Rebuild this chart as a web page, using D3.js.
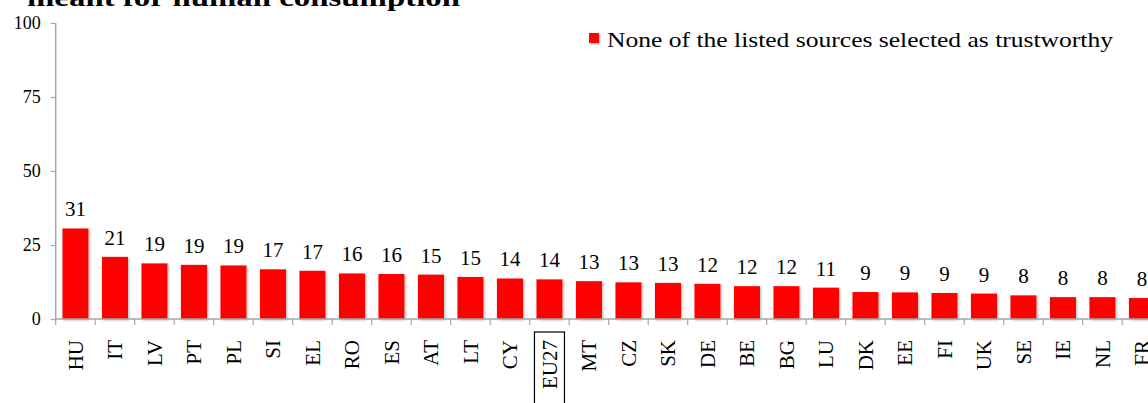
<!DOCTYPE html>
<html>
<head>
<meta charset="utf-8">
<script src="https://cdn.jsdelivr.net/npm/d3@7"></script>
<style>
  html, body { margin: 0; padding: 0; background: #fff; overflow: hidden; }
  svg { display: block; font-family: "Liberation Serif", "DejaVu Serif", serif; }
</style>
</head>
<body>
<svg id="chart" width="1148" height="403"></svg>
<script>
const categories = ["HU","IT","LV","PT","PL","SI","EL","RO","ES","AT","LT","CY","EU27","MT","CZ","SK","DE","BE","BG","LU","DK","EE","FI","UK","SE","IE","NL","FR"];
const values = [30.6,21.0,18.8,18.3,18.1,16.8,16.3,15.4,15.2,15.0,14.2,13.7,13.4,12.8,12.4,12.2,11.9,11.1,11.1,10.6,9.1,9.0,8.8,8.6,8.0,7.4,7.4,7.1];
const valueLabels = [31,21,19,19,19,17,17,16,16,15,15,14,14,13,13,13,12,12,12,11,9,9,9,9,8,8,8,8];
const yTicks = [0,25,50,75,100];
const seriesName = "None of the listed sources selected as trustworthy";
const titleText = "meant for human consumption";
const highlighted = "EU27";

const svg = d3.select("#chart");
const x0 = 55.7, step = 39.5;
const x = d3.scaleBand().domain(categories)
  .range([x0, x0 + step * categories.length])
  .paddingInner(0.34).paddingOuter(0.17);
const y = d3.scaleLinear().domain([0, 100]).range([319, 23]);

const defs = svg.append("defs");
const f = defs.append("filter").attr("id", "shadow").attr("x", "-20%").attr("y", "-20%").attr("width", "140%").attr("height", "140%");
f.append("feDropShadow").attr("dx", 1.2).attr("dy", 1.2).attr("stdDeviation", 1.2)
  .attr("flood-color", "#777").attr("flood-opacity", 0.55);

// title (cut off at top, as in the reference)
svg.append("text").attr("x", 27).attr("y", 6)
  .attr("font-size", 26).attr("font-weight", "bold").attr("fill", "#000")
  .attr("textLength", 433).attr("lengthAdjust", "spacingAndGlyphs")
  .text(titleText);

// bars
svg.append("g").selectAll("rect").data(categories).join("rect")
  .attr("x", d => x(d))
  .attr("width", x.bandwidth())
  .attr("y", (d, i) => y(values[i]))
  .attr("height", (d, i) => y(0) - y(values[i]))
  .attr("fill", "#ff0000")
  .attr("filter", "url(#shadow)");

// value labels
svg.append("g").selectAll("text").data(categories).join("text")
  .attr("x", d => x(d) + x.bandwidth() / 2)
  .attr("y", (d, i) => y(values[i]) - 12)
  .attr("text-anchor", "middle")
  .attr("font-size", 21).attr("fill", "#000")
  .text((d, i) => valueLabels[i]);

// y axis
const yAxis = d3.axisLeft(y).tickValues(yTicks).tickSize(5).tickPadding(10);
const gy = svg.append("g").attr("transform", `translate(${x0},0)`).call(yAxis);
gy.select(".domain").attr("stroke", "#a6a6a6").attr("stroke-width", 1.5).attr("d", `M0,${y(100)}V${y(0)}`);
gy.selectAll(".tick line").attr("stroke", "#a6a6a6").attr("stroke-width", 1.2);
gy.selectAll(".tick text").attr("font-size", 18).attr("font-family", "Liberation Serif, serif").attr("fill", "#000");

// x axis line and boundary ticks
const gx = svg.append("g");
gx.append("line").attr("x1", x0).attr("x2", 1148).attr("y1", y(0)).attr("y2", y(0))
  .attr("stroke", "#a6a6a6").attr("stroke-width", 1.5);
gx.selectAll("line.tk").data(d3.range(categories.length + 1)).join("line").attr("class", "tk")
  .attr("x1", i => x0 + i * step).attr("x2", i => x0 + i * step)
  .attr("y1", y(0)).attr("y2", y(0) + 6)
  .attr("stroke", "#a6a6a6").attr("stroke-width", 1.2);

// category labels
const labY = 340;
gx.selectAll("text.cat").data(categories).join("text").attr("class", "cat")
  .attr("transform", d => `translate(${x(d) + x.bandwidth() / 2 + 7.5},${labY}) rotate(-90)`)
  .attr("text-anchor", "end")
  .attr("font-size", 21).attr("fill", "#000")
  .text(d => d);

// highlight box around EU27
const hx = x(highlighted) + x.bandwidth() / 2;
svg.append("rect").attr("x", hx - 15).attr("y", 332).attr("width", 30).attr("height", 80)
  .attr("fill", "none").attr("stroke", "#000").attr("stroke-width", 1.2);

// legend
const lg = svg.append("g");
lg.append("rect").attr("x", 589).attr("y", 33).attr("width", 10).attr("height", 10)
  .attr("fill", "#ff0000").attr("filter", "url(#shadow)");
lg.append("text").attr("x", 607).attr("y", 47).attr("font-size", 21).attr("fill", "#000")
  .attr("textLength", 506).attr("lengthAdjust", "spacingAndGlyphs")
  .text(seriesName);
</script>
</body>
</html>
